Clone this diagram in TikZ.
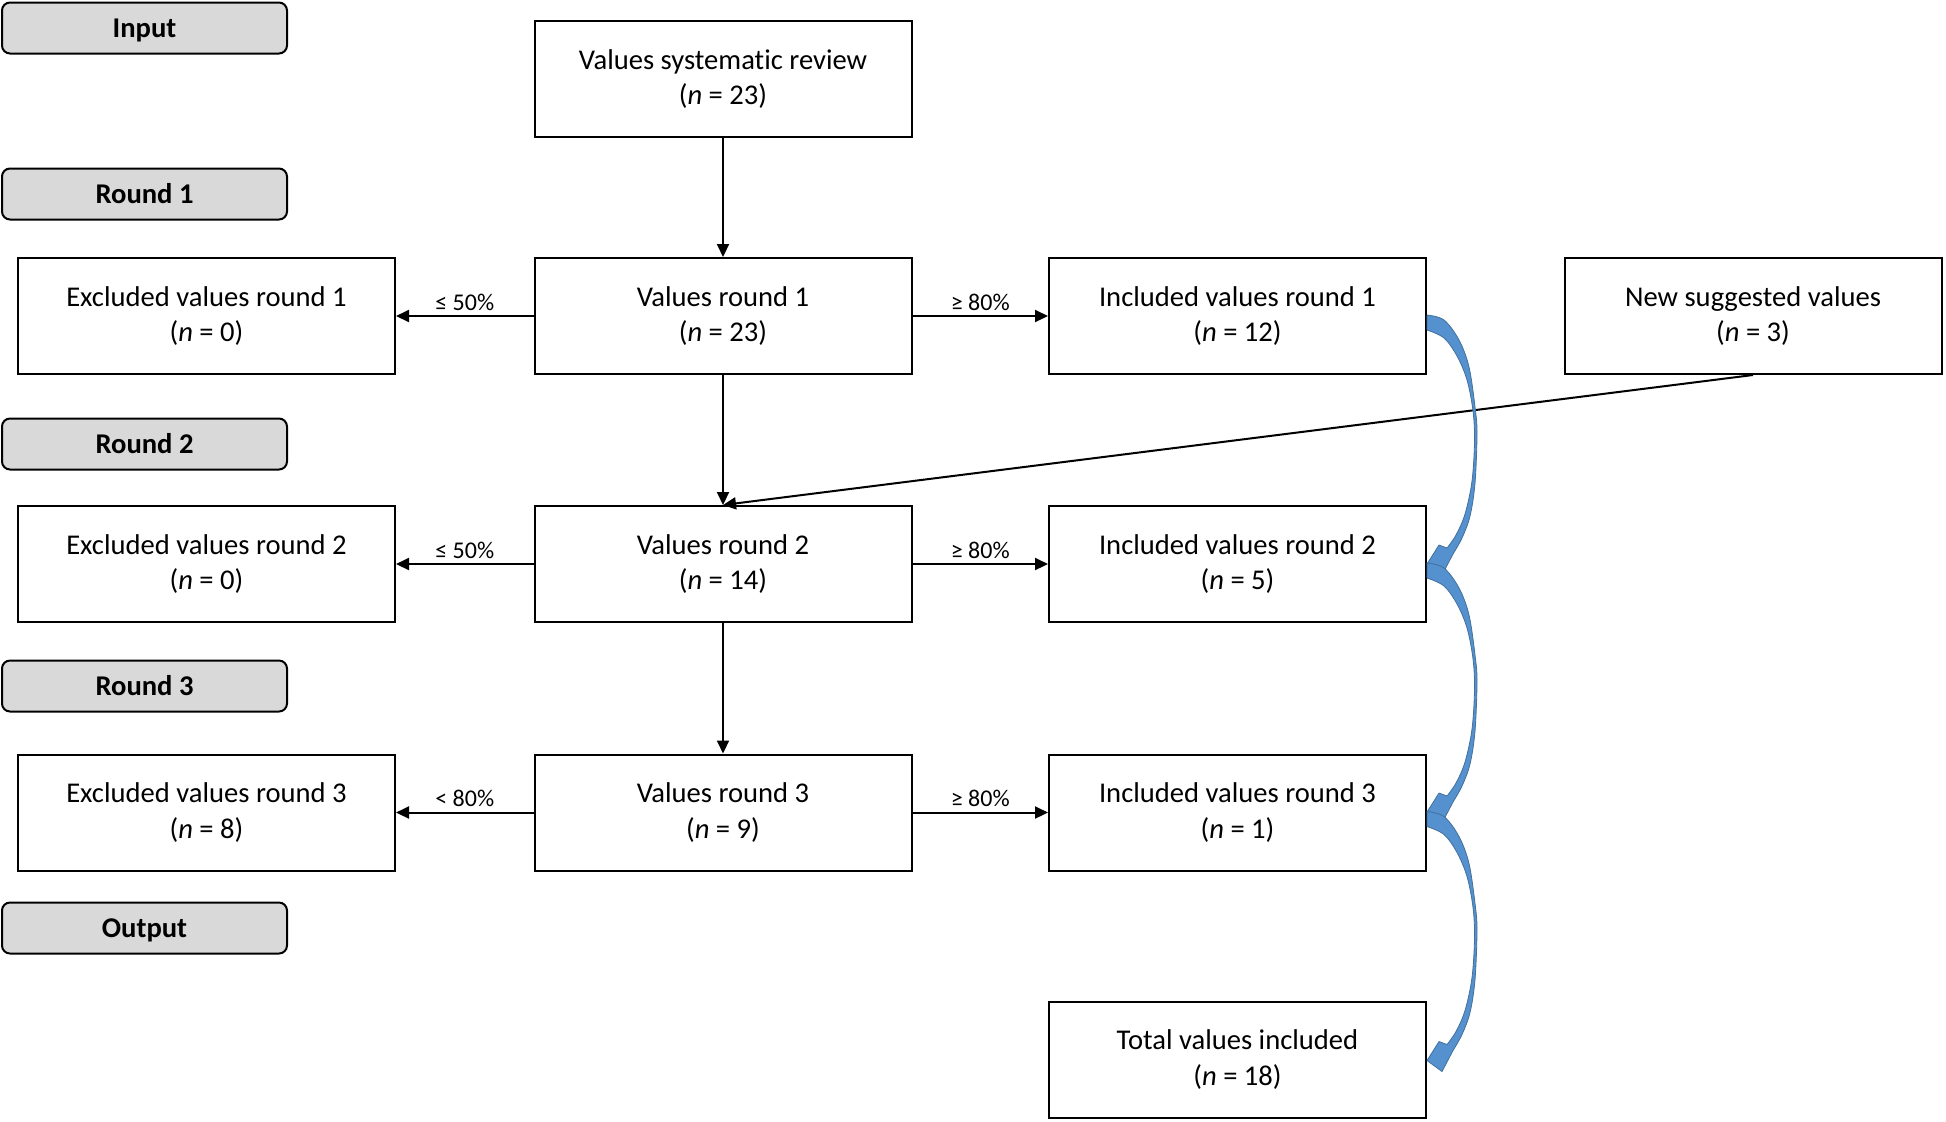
\documentclass[tikz,border=0pt]{standalone}
\usepackage{fontspec}
\setmainfont{Carlito}[Ligatures={NoCommon}]
\usetikzlibrary{arrows.meta}
\definecolor{lblgray}{RGB}{217,217,217}
\definecolor{bluefill}{RGB}{84,145,206}
\definecolor{blueline}{RGB}{65,113,156}
\tikzset{
  box/.style={draw=black, line width=1pt, rectangle, minimum width=188.5pt, minimum height=58pt,
              align=center, inner sep=0pt, font=\fontsize{14.3}{17.8}\selectfont,
              execute at begin node=\rule{0pt}{15pt}},
  tag/.style={draw=black, line width=1pt, rectangle, rounded corners=4pt, fill=lblgray,
              minimum width=142.5pt, minimum height=25.5pt, inner sep=0pt,
              text height=9.2pt, text depth=0pt,
              font=\fontsize{14.3}{16}\selectfont\bfseries},
  arr/.style={line width=1pt, -{Triangle[length=6.5pt,width=6pt]}},
  lab/.style={anchor=base, yshift=2.8pt, inner sep=0pt, font=\fontsize{12}{14}\selectfont},
  bluearr/.style={fill=bluefill, draw=blueline, line width=0.4pt, line join=round}
}
\newcommand{\bluecurve}[1]{%
  \begin{scope}[shift={(#1)}]
    \path[bluearr] plot[smooth, tension=0.55] coordinates {(0,-1) (17,4) (32,24) (42,51) (48,91) (50,117) (48,167) (43,200) (35,222) (26,238)}
      -- (15,259) -- (0,248) -- (12,229) --
      plot[smooth, tension=0.55] coordinates {(20,232) (29,219) (38,198) (45,165) (47.5,125) (46,95) (40,64) (30,40) (17,22) (0,14)}
      -- cycle;
  \end{scope}}
\begin{document}
\begin{tikzpicture}[x=0.5pt, y=-0.5pt]
\useasboundingbox (0,0) rectangle (1946,1121);
% stage tags
\node[tag] (tin) at (144.5,28) {Input};
\node[tag] (tr1) at (144.5,194) {Round 1};
\node[tag] (tr2) at (144.5,444) {Round 2};
\node[tag] (tr3) at (144.5,686) {Round 3};
\node[tag] (tout) at (144.5,928) {Output};
% boxes
\node[box] (vsr) at (723,79) {Values systematic review\\(\textit{n} = 23)};
\node[box] (vr1) at (723,316) {Values round 1\\(\textit{n} = 23)};
\node[box] (ex1) at (206.5,316) {Excluded values round 1\\(\textit{n} = 0)};
\node[box] (in1) at (1237.5,316) {Included values round 1\\(\textit{n} = 12)};
\node[box] (new) at (1753,316) {New suggested values\\(\textit{n} = 3)};
\node[box] (vr2) at (723,564) {Values round 2\\(\textit{n} = 14)};
\node[box] (ex2) at (206.5,564) {Excluded values round 2\\(\textit{n} = 0)};
\node[box] (in2) at (1237.5,564) {Included values round 2\\(\textit{n} = 5)};
\node[box] (vr3) at (723,812.5) {Values round 3\\(\textit{n} = 9)};
\node[box] (ex3) at (206.5,812.5) {Excluded values round 3\\(\textit{n} = 8)};
\node[box] (in3) at (1237.5,812.5) {Included values round 3\\(\textit{n} = 1)};
\node[box] (tot) at (1237.5,1059.5) {Total values included\\(\textit{n} = 18)};
% connectors
\draw[arr] (vsr.south) -- (vr1.north);
\draw[arr] (vr1.west) -- (ex1.east) node[midway, lab] {≤ 50\%};
\draw[arr] (vr1.east) -- (in1.west) node[midway, lab] {≥ 80\%};
\draw[arr] (vr1.south) -- (vr2.north);
\draw[arr] (new.south) -- (vr2.north);
\draw[arr] (vr2.west) -- (ex2.east) node[midway, lab] {≤ 50\%};
\draw[arr] (vr2.east) -- (in2.west) node[midway, lab] {≥ 80\%};
\draw[arr] (vr2.south) -- (vr3.north);
\draw[arr] (vr3.west) -- (ex3.east) node[midway, lab] {< 80\%};
\draw[arr] (vr3.east) -- (in3.west) node[midway, lab] {≥ 80\%};
% blue curved arrows
\bluecurve{in1.east}
\bluecurve{in2.east}
\bluecurve{in3.east}
\end{tikzpicture}
\end{document}
